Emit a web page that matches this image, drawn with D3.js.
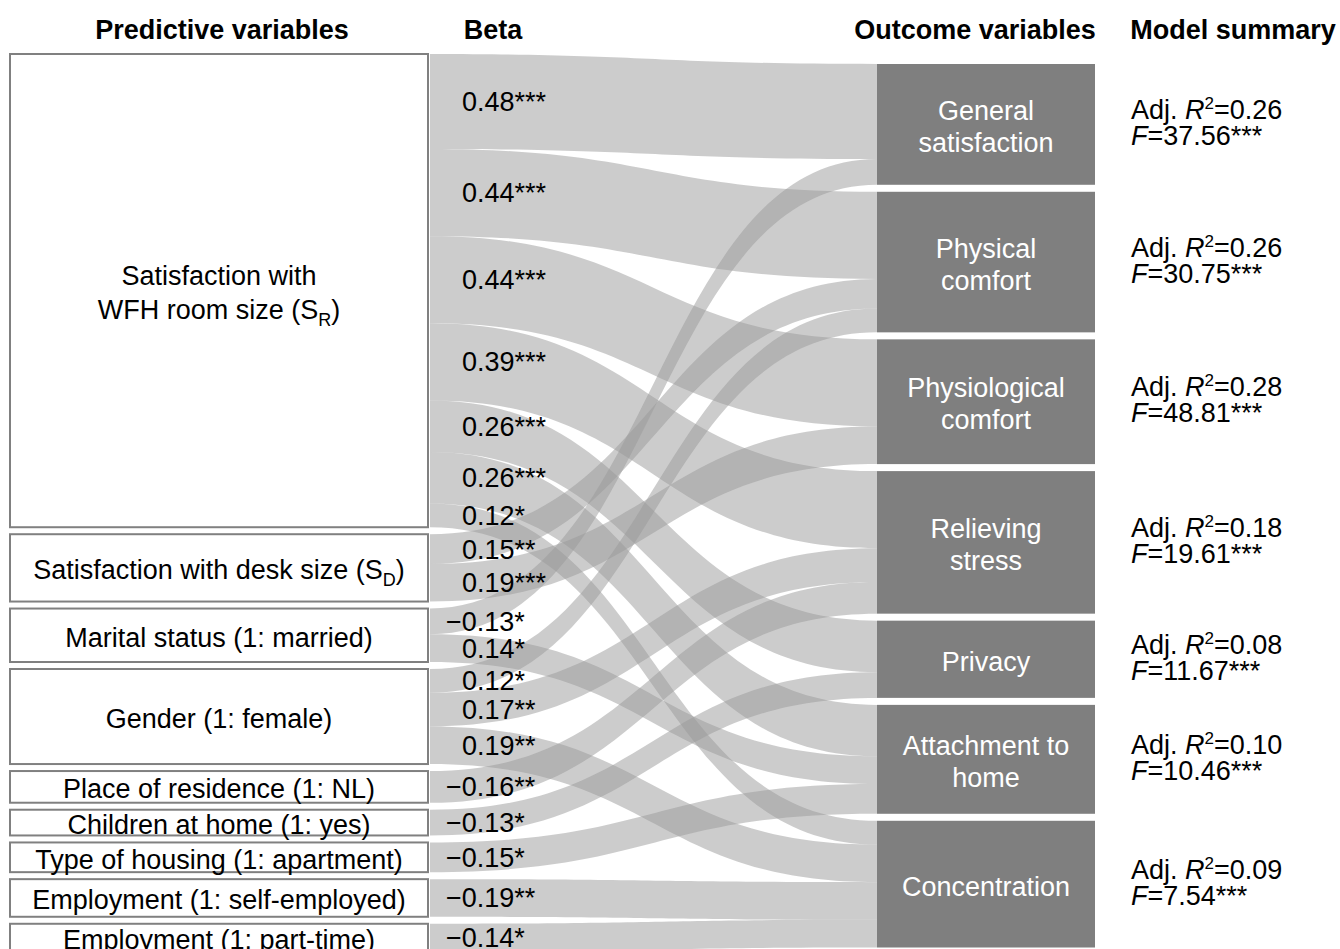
<!DOCTYPE html>
<html>
<head>
<meta charset="utf-8">
<script src="https://cdn.jsdelivr.net/npm/d3@7"></script>
<style>
  body { margin: 0; background: #fff; }
  text { font-family: "Liberation Sans", Arial, sans-serif; }
</style>
</head>
<body>
<div id="chart"></div>
<script>
var width = 1340, height = 949;

// left column, one entry per box, "_X" = subscript X
var predictors = [
  ["Satisfaction with", "WFH room size (S_R)"],
  ["Satisfaction with  desk size (S_D)"],
  ["Marital  status (1: married)"],
  ["Gender (1: female)"],
  ["Place of residence (1: NL)"],
  ["Children at home (1: yes)"],
  ["Type of housing (1: apartment)"],
  ["Employment (1: self-employed)"],
  ["Employment (1: part-time)"]
];

// right column
var outcomes = [
  ["General", "satisfaction"],
  ["Physical", "comfort"],
  ["Physiological", "comfort"],
  ["Relieving", "stress"],
  ["Privacy"],
  ["Attachment to", "home"],
  ["Concentration"]
];
var adjR2 = ["0.26", "0.26", "0.28", "0.18", "0.08", "0.10", "0.09"];
var fValues = ["37.56", "30.75", "48.81", "19.61", "11.67", "10.46", "7.54"];
var fStars = ["***", "***", "***", "***", "***", "***", "***"];

// links: predictor index -> outcome index, standardized beta
var linkSource = [0, 0, 0, 0, 0, 0, 0, 1, 1, 2, 2, 3, 3, 3, 4, 5, 6, 7, 8];
var linkTarget = [0, 1, 2, 3, 4, 5, 6, 1, 2, 0, 5, 1, 3, 6, 3, 4, 5, 6, 6];
var betas = [0.48, 0.44, 0.44, 0.39, 0.26, 0.26, 0.12, 0.15, 0.19, -0.13, 0.14,
             0.12, 0.17, 0.19, -0.16, -0.13, -0.15, -0.19, -0.14];
var stars = ["***", "***", "***", "***", "***", "***", "*", "**", "***", "*", "*",
             "*", "**", "**", "**", "*", "*", "**", "*"];

var headers = ["Predictive variables", "Beta", "Outcome variables", "Model summary"];

var leftX0 = 10, leftX1 = 428, flowX0 = 430, flowX1 = 877, rightX1 = 1095;
var betaX = 462, summaryX = 1131;
var leftTop = 54, rightTop = 64, gap = 7;
var fs = 27;

var h = d3.scaleLinear().domain([0, 1]).range([0, 198]);

var links = betas.map(function(b, i) {
  return {i: i, source: linkSource[i], target: linkTarget[i], beta: b, stars: stars[i], w: h(Math.abs(b))};
});

// stack the left nodes
var y = leftTop;
var leftNodes = predictors.map(function(lbl, s) {
  var ls = links.filter(function(l) { return l.source === s; })
    .sort(function(a, b) { return a.target - b.target; });
  var n = {lines: lbl, y0: y};
  ls.forEach(function(l) { l.sy0 = y; y += l.w; l.sy1 = y; });
  n.y1 = y;
  y += gap;
  return n;
});

y = rightTop;
var rightNodes = outcomes.map(function(lbl, t) {
  var ls = links.filter(function(l) { return l.target === t; })
    .sort(function(a, b) { return a.source - b.source; });
  var n = {lines: lbl, y0: y};
  ls.forEach(function(l) { l.ty0 = y; y += l.w; l.ty1 = y; });
  n.y1 = y;
  y += gap;
  return n;
});

var svg = d3.select("#chart").append("svg")
  .attr("width", width)
  .attr("height", height);

// text with optional subscript "_X"
function addLine(sel, str, sub) {
  var m = str.match(/^(.*)_(\w)(.*)$/);
  if (!m) { sel.text(str); return; }
  sel.append("tspan").text(m[1]);
  sel.append("tspan").attr("font-size", sub).attr("dy", 7).text(m[2]);
  sel.append("tspan").attr("dy", -7).text(m[3]);
}

// headers
var headerX = [222, 493, 975, 1233];
svg.selectAll(".header")
  .data(headers)
  .enter().append("text")
  .attr("class", "header")
  .attr("x", function(d, i) { return headerX[i]; })
  .attr("y", 30)
  .attr("dy", "0.35em")
  .attr("text-anchor", "middle")
  .attr("font-size", 27)
  .attr("font-weight", "bold")
  .attr("fill", "#000")
  .text(function(d) { return d; });

// flows
function ribbon(l) {
  var xm = (flowX0 + flowX1) / 2;
  return "M" + flowX0 + "," + l.sy0 +
    "C" + xm + "," + l.sy0 + " " + xm + "," + l.ty0 + " " + flowX1 + "," + l.ty0 +
    "L" + flowX1 + "," + l.ty1 +
    "C" + xm + "," + l.ty1 + " " + xm + "," + l.sy1 + " " + flowX0 + "," + l.sy1 + "Z";
}

svg.append("g")
  .selectAll("path")
  .data(links)
  .enter().append("path")
  .attr("d", ribbon)
  .attr("fill", "#999")
  .attr("fill-opacity", 0.5);

// left boxes
var lg = svg.append("g").selectAll("g")
  .data(leftNodes)
  .enter().append("g");

lg.append("rect")
  .attr("x", leftX0)
  .attr("y", function(d) { return d.y0; })
  .attr("width", leftX1 - leftX0)
  .attr("height", function(d) { return d.y1 - d.y0; })
  .attr("fill", "#fff")
  .attr("stroke", "#808080")
  .attr("stroke-width", 2);

lg.each(function(d) {
  var g = d3.select(this);
  var cy = (d.y0 + d.y1) / 2 + 2;
  d.lines.forEach(function(line, k) {
    var t = g.append("text")
      .attr("x", (leftX0 + leftX1) / 2)
      .attr("y", cy + (k - (d.lines.length - 1) / 2) * 34)
      .attr("dy", "0.35em")
      .attr("text-anchor", "middle")
      .attr("font-size", fs)
      .attr("fill", "#000");
    addLine(t, line, 18);
  });
});

// right boxes
var rg = svg.append("g").selectAll("g")
  .data(rightNodes)
  .enter().append("g");

rg.append("rect")
  .attr("x", flowX1)
  .attr("y", function(d) { return d.y0; })
  .attr("width", rightX1 - flowX1)
  .attr("height", function(d) { return d.y1 - d.y0; })
  .attr("fill", "#7f7f7f");

rg.each(function(d, i) {
  var g = d3.select(this);
  var cy = (d.y0 + d.y1) / 2;
  d.lines.forEach(function(line, k) {
    g.append("text")
      .attr("x", (flowX1 + rightX1) / 2)
      .attr("y", cy + 2 + (k - (d.lines.length - 1) / 2) * 32)
      .attr("dy", "0.35em")
      .attr("text-anchor", "middle")
      .attr("font-size", fs)
      .attr("fill", "#fff")
      .text(line);
  });
  // model summary
  var t1 = g.append("text")
    .attr("x", summaryX)
    .attr("y", cy - 15)
    .attr("dy", "0.35em")
    .attr("font-size", fs)
    .attr("fill", "#000");
  t1.append("tspan").text("Adj. ");
  t1.append("tspan").attr("font-style", "italic").text("R");
  t1.append("tspan").attr("font-size", 17).attr("dy", -10).text("2");
  t1.append("tspan").attr("dy", 10).text("=" + adjR2[i]);
  var t2 = g.append("text")
    .attr("x", summaryX)
    .attr("y", cy + 11)
    .attr("dy", "0.35em")
    .attr("font-size", fs)
    .attr("fill", "#000");
  t2.append("tspan").attr("font-style", "italic").text("F");
  t2.append("tspan").text("=" + fValues[i] + fStars[i]);
});

// beta labels
svg.append("g").selectAll("text")
  .data(links)
  .enter().append("text")
  .attr("x", function(d) { return d.beta < 0 ? betaX - 16 : betaX; })
  .attr("y", function(d) { return (d.sy0 + d.sy1) / 2; })
  .attr("dy", "0.35em")
  .attr("font-size", fs)
  .attr("fill", "#000")
  .text(function(d) { return (d.beta < 0 ? "\u2212" : "") + Math.abs(d.beta).toFixed(2) + d.stars; });
</script>
</body>
</html>
